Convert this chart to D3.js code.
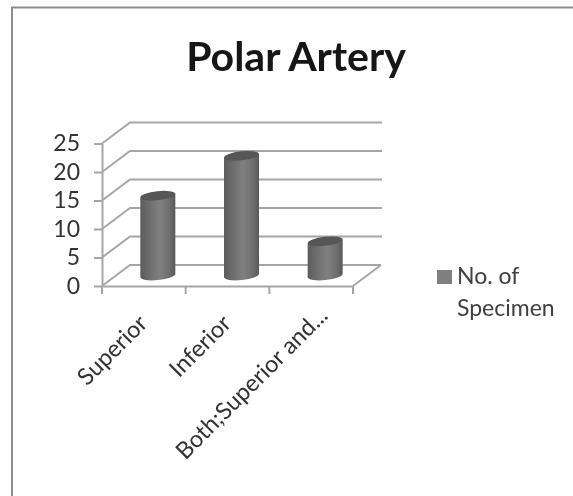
<!DOCTYPE html>
<html>
<head>
  <title>Polar Artery</title>
  <meta charset="utf-8">
  <script src="https://d3js.org/d3.v7.min.js"></script>
  <style>
    html, body { margin: 0; padding: 0; background: #fff; }
    svg { display: block; }
    text { font-family: Lato, "Open Sans", sans-serif; }
  </style>
</head>
<body>
  <svg id="chart" width="573" height="496"></svg>

  <script>
    // Datos
    const categories = ["Superior", "Inferior", "Both;Superior and..."];
    const specimens = [14, 21, 6];
    const yTicks = [0, 5, 10, 15, 20, 25];
    const seriesName = ["No. of", "Specimen"];
    const title = "Polar Artery";

    const svg = d3.select("#chart");

    // Desenfoque leve, la referencia es una imagen escalada
    const defs = svg.append("defs");
    defs.append("filter").attr("id", "soft")
      .attr("x", "-5%").attr("y", "-5%").attr("width", "110%").attr("height", "110%")
      .append("feGaussianBlur").attr("stdDeviation", 0.65);

    const grad = defs.append("linearGradient").attr("id", "cyl");
    grad.selectAll("stop")
      .data([[0, "#5c5c5c"], [0.15, "#666666"], [0.55, "#808080"], [0.85, "#6c6c6c"], [1, "#585858"]])
      .enter().append("stop")
      .attr("offset", (d) => d[0])
      .attr("stop-color", (d) => d[1]);

    const root = svg.append("g").attr("filter", "url(#soft)");

    // Marco
    root.append("path")
      .attr("d", "M12,500V7.5H580")
      .attr("fill", "none")
      .attr("stroke", "#8c8c8c")
      .attr("stroke-width", 2);

    // Titulo
    root.append("text")
      .attr("x", 296)
      .attr("y", 71)
      .attr("text-anchor", "middle")
      .attr("font-size", 41)
      .attr("font-weight", 700)
      .attr("fill", "#141414")
      .text(title);

    // Escalas
    const xScale = d3.scaleBand().domain(categories).range([102, 353]);
    const yScale = d3.scaleLinear().domain([0, 25]).range([286, 143.5]);

    // Profundidad del piso en la vista 3D
    const depthX = 28;
    const depthY = -21;
    const gridColor = "#a6a6a6";
    const wallRight = xScale.range()[1] + depthX;
    const x0 = xScale.range()[0];

    // Lineas de la pared y del lado izquierdo
    const grid = root.append("g")
      .attr("fill", "none")
      .attr("stroke", gridColor)
      .attr("stroke-width", 2);

    grid.selectAll("path.wall")
      .data(yTicks)
      .enter().append("path")
      .attr("class", "wall")
      .attr("d", (d) => `M${x0},${yScale(d)}L${x0 + depthX},${yScale(d) + depthY}H${wallRight + (d === 0 ? 0 : 1)}`);

    // Borde derecho del piso
    grid.append("line")
      .attr("x1", xScale.range()[1])
      .attr("y1", yScale(0))
      .attr("x2", wallRight)
      .attr("y2", yScale(0) + depthY);

    // Eje y
    const yAxis = d3.axisLeft(yScale).tickValues(yTicks).tickSize(8).tickPadding(14).tickSizeOuter(0);
    const yAxisG = root.append("g").attr("transform", `translate(${x0},0)`).call(yAxis);

    // Eje x, las marcas van en los bordes de cada categoria
    const xAxis = d3.axisBottom(xScale).tickSize(0).tickPadding(0).tickSizeOuter(0).tickFormat("");
    const xAxisG = root.append("g").attr("transform", `translate(0,${yScale(0)})`).call(xAxis);

    xAxisG.selectAll(".tickEdge")
      .data(categories.map((c) => xScale(c)).concat(xScale.range()[1]))
      .enter().append("line")
      .attr("class", "tickEdge")
      .attr("x1", (d) => d)
      .attr("x2", (d) => d)
      .attr("y1", 0)
      .attr("y2", 8);

    [yAxisG, xAxisG].forEach((g) => {
      g.selectAll("line, path").attr("stroke", gridColor).attr("stroke-width", 2);
    });

    yAxisG.selectAll("text")
      .attr("font-size", 23)
      .attr("fill", "#333333");

    // Etiquetas de categoria giradas, la ultima queda mas arriba y a la derecha
    root.append("g").selectAll("text")
      .data(categories)
      .enter().append("text")
      .attr("transform", (d, i) => {
        const last = i === categories.length - 1;
        const lx = xScale(d) + xScale.bandwidth() / 2 + (last ? 18 : 5);
        const ly = yScale(0) + (last ? 31 : 39);
        return `translate(${lx},${ly}) rotate(-45)`;
      })
      .attr("text-anchor", "end")
      .attr("font-size", 23.5)
      .attr("fill", "#333333")
      .text((d) => d);

    // Cilindros, inclinados como en la vista 3D
    const rx = 17.5;
    const ry = 4.5;
    const tilt = -6;
    const rise = rx * Math.tan(-tilt * Math.PI / 180);
    const baseShiftX = depthX / 2;
    const baseShiftY = depthY / 2;

    const bars = root.append("g").selectAll("g")
      .data(specimens)
      .enter().append("g")
      .attr("transform", (d, i) => `translate(${xScale(categories[i]) + xScale.bandwidth() / 2 + baseShiftX},${baseShiftY})`);

    bars.append("path")
      .attr("d", (d) => `M${-rx},${yScale(d) + rise}V${yScale(0) + rise}A${rx},${ry} ${tilt} 0 0 ${rx},${yScale(0) - rise}V${yScale(d) - rise}Z`)
      .attr("fill", "url(#cyl)");

    bars.append("ellipse")
      .attr("rx", rx)
      .attr("ry", ry)
      .attr("transform", (d) => `translate(0,${yScale(d)}) rotate(${tilt})`)
      .attr("fill", "#575757");

    // Leyenda
    root.append("rect")
      .attr("x", 437)
      .attr("y", 270)
      .attr("width", 15)
      .attr("height", 14)
      .attr("fill", "#7f7f7f");

    root.append("g").selectAll("text")
      .data(seriesName)
      .enter().append("text")
      .attr("x", 457)
      .attr("y", (d, i) => 284 + i * 32)
      .attr("font-size", 23)
      .attr("fill", "#404040")
      .text((d) => d);
  </script>
</body>
</html>
